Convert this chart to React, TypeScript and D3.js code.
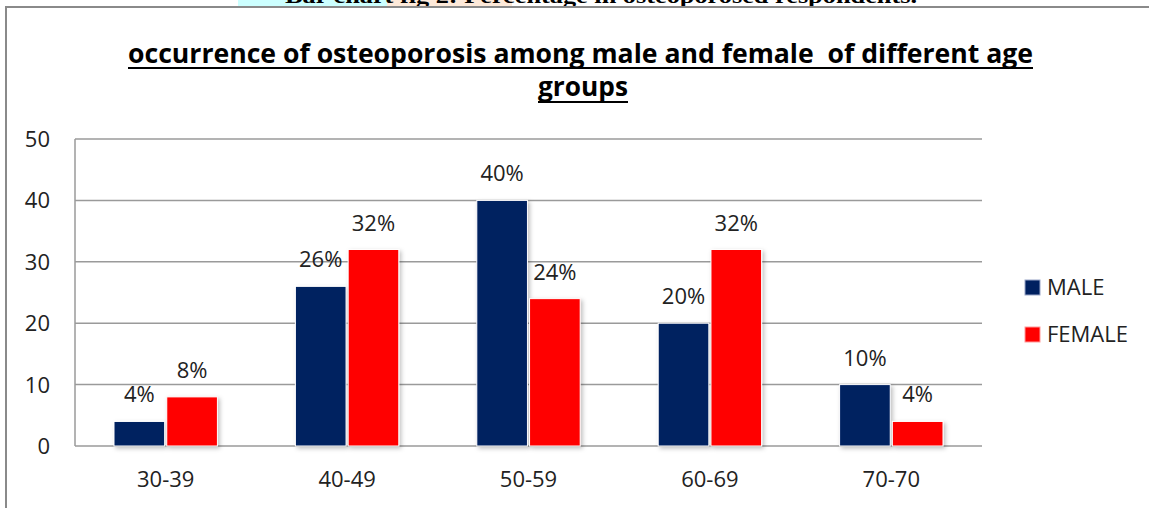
import { useEffect, useRef } from 'react';
import * as d3 from 'd3';

const ageGroups = ['30-39', '40-49', '50-59', '60-69', '70-70'];
const series = ['MALE', 'FEMALE'];
const maleValues = [4, 26, 40, 20, 10];
const femaleValues = [8, 32, 24, 32, 4];
const yTicks = [0, 10, 20, 30, 40, 50];
const seriesColors = ['#002060', '#FF0000'];

const WIDTH = 1149;
const HEIGHT = 508;
const FONT = '"Open Sans", "Liberation Sans", sans-serif';

export default function App() {
  const svgRef = useRef<SVGSVGElement>(null);

  useEffect(() => {
    if (!svgRef.current) return;
    const svg = d3.select(svgRef.current);
    svg.selectAll('*').remove();

    const plot = { left: 75, right: 982, top: 139, bottom: 446 };

    // caption of the document, mostly cut off at the top
    svg.append('rect').attr('x', 238).attr('y', 0).attr('width', 149).attr('height', 7).attr('fill', '#ccffff');
    svg.append('rect').attr('x', 387).attr('y', 0).attr('width', 125).attr('height', 7).attr('fill', '#fde9d9');
    svg.append('text')
      .attr('x', 285).attr('y', 3)
      .attr('textLength', 632).attr('lengthAdjust', 'spacingAndGlyphs')
      .style('font-family', '"Liberation Serif", "Times New Roman", serif')
      .style('font-weight', 'bold').style('font-size', '20px')
      .text('Bar chart fig 2: Percentage in osteoporosed respondents.');

    // chart frame
    svg.append('rect')
      .attr('x', 6).attr('y', 7).attr('width', 1160).attr('height', 520)
      .attr('fill', 'white').attr('stroke', '#8a8a8a').attr('stroke-width', 2);

    // title
    const title = svg.append('g').style('font-family', FONT).style('font-weight', 'bold').attr('fill', '#000');
    title.append('text')
      .attr('x', 128).attr('y', 63)
      .attr('textLength', 905).attr('lengthAdjust', 'spacingAndGlyphs')
      .style('font-size', '27px').style('white-space', 'pre')
      .text('occurrence of osteoporosis among male and female  of different age');
    title.append('line').attr('x1', 128).attr('x2', 1033).attr('y1', 68).attr('y2', 68).attr('stroke', '#000').attr('stroke-width', 2);
    title.append('text')
      .attr('x', 583).attr('y', 96).attr('text-anchor', 'middle')
      .attr('textLength', 90).attr('lengthAdjust', 'spacingAndGlyphs')
      .style('font-size', '27px')
      .text('groups');
    title.append('line').attr('x1', 538).attr('x2', 628).attr('y1', 102).attr('y2', 102).attr('stroke', '#000').attr('stroke-width', 2);

    const x0 = d3.scaleBand().domain(ageGroups).range([plot.left, plot.right]).paddingInner(0.43).paddingOuter(0.215);
    const x1 = d3.scaleBand().domain(series).range([0, x0.bandwidth()]).paddingInner(0.04);
    const y = d3.scaleLinear().domain([0, 50]).range([plot.bottom, plot.top]);

    // gridlines
    svg.append('g').selectAll('line').data(yTicks).enter().append('line')
      .attr('x1', plot.left).attr('x2', plot.right)
      .attr('y1', d => y(d)).attr('y2', d => y(d))
      .attr('stroke', '#9a9a9a').attr('stroke-width', 1.5);
    svg.append('line')
      .attr('x1', plot.left).attr('x2', plot.left).attr('y1', plot.top).attr('y2', plot.bottom)
      .attr('stroke', '#9a9a9a').attr('stroke-width', 1.5);

    // y tick labels
    svg.append('g').selectAll('text').data(yTicks).enter().append('text')
      .attr('x', 50).attr('y', d => y(d)).attr('dy', '0.36em').attr('text-anchor', 'end')
      .style('font-family', FONT).style('font-size', '22px').attr('fill', '#222')
      .text(d => d);

    // x labels
    svg.append('g').selectAll('text').data(ageGroups).enter().append('text')
      .attr('x', d => (x0(d) || 0) + x0.bandwidth() / 2).attr('y', 487).attr('text-anchor', 'middle')
      .style('font-family', FONT).style('font-size', '22px').attr('fill', '#222')
      .text(d => d);

    const defs = svg.append('defs');
    const filter = defs.append('filter').attr('id', 'shadow').attr('x', '-20%').attr('y', '-20%').attr('width', '150%').attr('height', '150%');
    filter.append('feDropShadow').attr('dx', 2).attr('dy', 2).attr('stdDeviation', 2).attr('flood-color', '#000').attr('flood-opacity', 0.25);

    const rows = ageGroups.map((g, i) => ({ group: g, values: [maleValues[i], femaleValues[i]] }));

    const groups = svg.append('g').selectAll('g').data(rows).enter().append('g')
      .attr('transform', d => `translate(${x0(d.group)},0)`);

    groups.selectAll('rect')
      .data(d => d.values.map((v, i) => ({ key: series[i], value: v, color: seriesColors[i] })))
      .enter().append('rect')
      .attr('x', d => x1(d.key) || 0)
      .attr('y', d => y(d.value))
      .attr('width', x1.bandwidth())
      .attr('height', d => plot.bottom - y(d.value))
      .attr('fill', d => d.color)
      .attr('stroke', 'white').attr('stroke-width', 1)
      .attr('filter', 'url(#shadow)');

    groups.selectAll('text.value')
      .data(d => d.values.map((v, i) => ({ key: series[i], value: v })))
      .enter().append('text')
      .attr('class', 'value')
      .attr('x', d => (x1(d.key) || 0) + x1.bandwidth() / 2)
      .attr('y', d => y(d.value) - 19)
      .attr('text-anchor', 'middle')
      .style('font-family', FONT).style('font-size', '22px').attr('fill', '#222')
      .text(d => `${d.value}%`);

    // legend
    const legend = svg.append('g').selectAll('g').data(series).enter().append('g')
      .attr('transform', (_, i) => `translate(1025,${280 + i * 47})`);
    legend.append('rect')
      .attr('width', 15).attr('height', 15)
      .attr('fill', (_, i) => seriesColors[i])
      .attr('stroke', (_, i) => (i === 0 ? '#9aa6c8' : '#ff9a9a')).attr('stroke-width', 1);
    legend.append('text')
      .attr('x', 22).attr('y', 15)
      .style('font-family', FONT).style('font-size', '22px').attr('fill', '#222')
      .text(d => d);
  }, []);

  return (
    <svg
      ref={svgRef}
      width={WIDTH}
      height={HEIGHT}
      style={{ position: 'absolute', left: 0, top: 0, background: 'white' }}
    />
  );
}
